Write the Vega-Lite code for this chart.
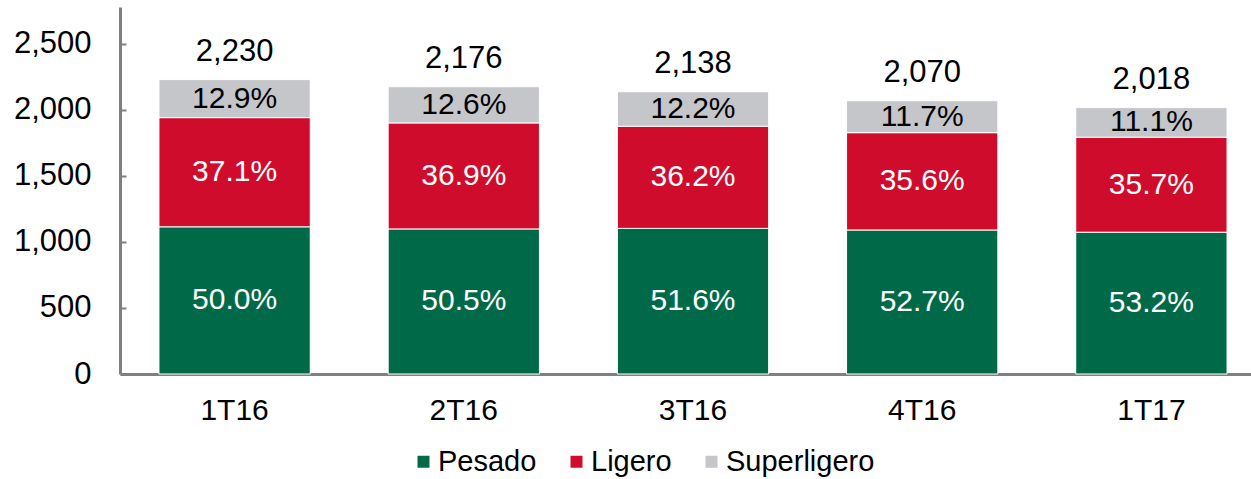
{
  "$schema": "https://vega.github.io/schema/vega-lite/v6.json",
  "width": 1146,
  "height": 367,
  "autosize": {"type": "none"},
  "padding": {"left": 120, "top": 7, "right": 0, "bottom": 105},
  "background": "white",
  "config": {
    "font": "Liberation Sans",
    "view": {"stroke": null},
    "axis": {"grid": false, "title": null}
  },
  "datasets": {
    "parts": [
      {"q": "1T16", "serie": "Pesado", "orden": 1, "value": 1115, "pct": "50.0%"},
      {"q": "1T16", "serie": "Ligero", "orden": 2, "value": 827, "pct": "37.1%"},
      {"q": "1T16", "serie": "Superligero", "orden": 3, "value": 288, "pct": "12.9%"},
      {"q": "2T16", "serie": "Pesado", "orden": 1, "value": 1099, "pct": "50.5%"},
      {"q": "2T16", "serie": "Ligero", "orden": 2, "value": 803, "pct": "36.9%"},
      {"q": "2T16", "serie": "Superligero", "orden": 3, "value": 274, "pct": "12.6%"},
      {"q": "3T16", "serie": "Pesado", "orden": 1, "value": 1103, "pct": "51.6%"},
      {"q": "3T16", "serie": "Ligero", "orden": 2, "value": 774, "pct": "36.2%"},
      {"q": "3T16", "serie": "Superligero", "orden": 3, "value": 261, "pct": "12.2%"},
      {"q": "4T16", "serie": "Pesado", "orden": 1, "value": 1091, "pct": "52.7%"},
      {"q": "4T16", "serie": "Ligero", "orden": 2, "value": 737, "pct": "35.6%"},
      {"q": "4T16", "serie": "Superligero", "orden": 3, "value": 242, "pct": "11.7%"},
      {"q": "1T17", "serie": "Pesado", "orden": 1, "value": 1074, "pct": "53.2%"},
      {"q": "1T17", "serie": "Ligero", "orden": 2, "value": 720, "pct": "35.7%"},
      {"q": "1T17", "serie": "Superligero", "orden": 3, "value": 224, "pct": "11.1%"}
    ],
    "totals": [
      {"q": "1T16", "total": 2230},
      {"q": "2T16", "total": 2176},
      {"q": "3T16", "total": 2138},
      {"q": "4T16", "total": 2070},
      {"q": "1T17", "total": 2018}
    ]
  },
  "encoding": {
    "x": {
      "field": "q", "type": "nominal", "sort": ["1T16", "2T16", "3T16", "4T16", "1T17"],
      "scale": {"paddingInner": 0.34, "paddingOuter": 0.17},
      "axis": {"labelAngle": 0, "labelFontSize": 30, "labelColor": "black", "labelPadding": 21, "ticks": false, "domainColor": "#808080", "domainWidth": 3}
    }
  },
  "layer": [
    {
      "data": {"name": "parts"},
      "mark": {"type": "bar", "stroke": "white", "strokeWidth": 1},
      "encoding": {
        "y": {
          "field": "value", "type": "quantitative", "stack": "zero",
          "scale": {"domain": [0, 2780], "nice": false},
          "axis": {"values": [0, 500, 1000, 1500, 2000, 2500], "format": ",.0f", "labelFontSize": 31, "labelColor": "black", "labelPadding": 35, "tickSize": -6, "tickColor": "#808080", "tickWidth": 2, "domainColor": "#808080", "domainWidth": 3}
        },
        "color": {
          "field": "serie", "type": "nominal",
          "scale": {"domain": ["Pesado", "Ligero", "Superligero"], "range": ["#006A48", "#D00C2D", "#C5C6CA"]},
          "legend": {"title": null, "orient": "none", "direction": "horizontal", "legendX": 289, "legendY": 440, "symbolType": "square", "symbolSize": 144, "symbolStrokeWidth": 0, "labelFontSize": 29, "labelColor": "black", "columnPadding": 25, "labelOffset": 0}
        },
        "order": {"field": "orden", "type": "quantitative"}
      }
    },
    {
      "data": {"name": "parts"},
      "mark": {"type": "text", "fontSize": 30, "baseline": "middle", "align": "center"},
      "encoding": {
        "y": {"field": "value", "type": "quantitative", "stack": "zero", "bandPosition": 0.5},
        "detail": {"field": "serie", "type": "nominal"},
        "order": {"field": "orden", "type": "quantitative"},
        "text": {"field": "pct", "type": "nominal"},
        "color": {"condition": {"test": "datum.serie === 'Superligero'", "value": "black"}, "value": "white"}
      }
    },
    {
      "data": {"name": "totals"},
      "mark": {"type": "text", "fontSize": 31, "baseline": "middle", "align": "center", "dy": -28, "color": "black"},
      "encoding": {
        "y": {"field": "total", "type": "quantitative"},
        "text": {"field": "total", "type": "quantitative", "format": ","}
      }
    }
  ]
}
